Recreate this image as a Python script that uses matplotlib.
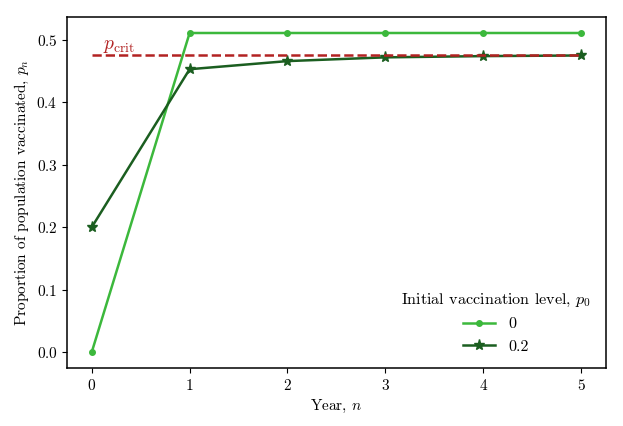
import numpy as np
import matplotlib
matplotlib.use("Agg")
import matplotlib.pyplot as plt

plt.rcParams['font.family'] = 'serif'
plt.rcParams['font.serif'] = ['cmr10']
plt.rcParams['mathtext.fontset'] = 'cm'
plt.rcParams['axes.formatter.use_mathtext'] = True
plt.rcParams['font.size'] = 11
plt.rcParams['axes.linewidth'] = 1.1

# --- data ---
years = [0, 1, 2, 3, 4, 5]
p_from_0 = [0.0, 0.511, 0.511, 0.511, 0.511, 0.511]
p_from_02 = [0.2, 0.453, 0.466, 0.472, 0.474, 0.475]
p_crit = 0.476
series_labels = ['0', '0.2']

fig, ax = plt.subplots(figsize=(6.23, 4.26), dpi=100)

ax.plot(years, p_from_0, '-o', color='#3cb83c', lw=1.8, ms=4, label=series_labels[0])
ax.plot(years, p_from_02, '-*', color='#1b5e20', lw=1.8, ms=8, label=series_labels[1])
ax.hlines(p_crit, years[0], years[-1], colors='#b22222', linestyles='--', lw=1.8)
ax.text(0.12, p_crit + 0.01, r'$p_{\rm crit}$', color='#b22222', fontsize=14)

ax.set_xlabel(r'Year, $n$')
ax.set_ylabel(r'Proportion of population vaccinated, $p_n$')
ax.legend(title=r'Initial vaccination level, $p_0$', loc='lower right', frameon=False,
          fontsize=11.6, title_fontsize=11.6)

fig.subplots_adjust(left=0.108, right=0.972, top=0.96, bottom=0.136)
fig.savefig('out.png', dpi=100)
